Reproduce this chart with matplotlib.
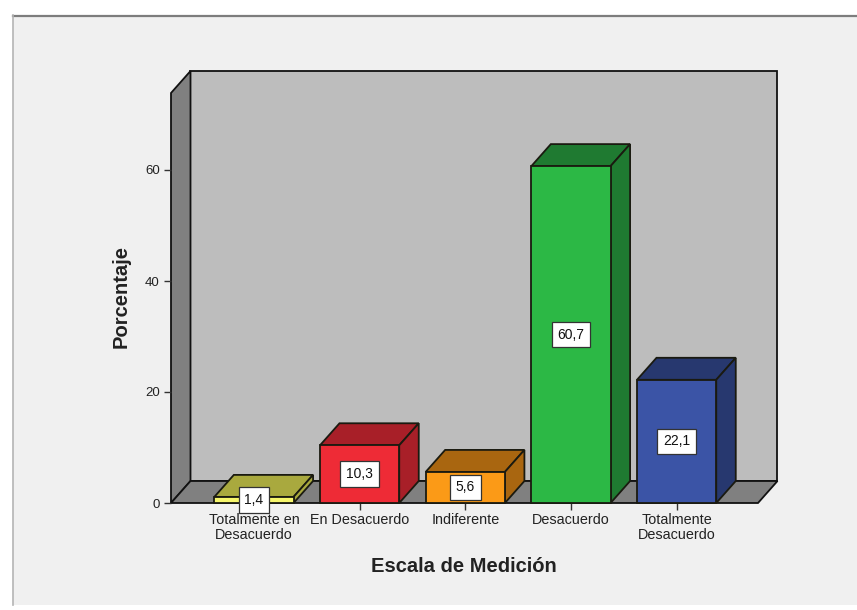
import matplotlib
matplotlib.use("Agg")
import matplotlib.pyplot as plt
from matplotlib.patches import Polygon, Rectangle

plt.rcParams['font.family'] = ['Liberation Sans', 'DejaVu Sans']

categories = ["Totalmente en\nDesacuerdo", "En Desacuerdo", "Indiferente", "Desacuerdo", "Totalmente\nDesacuerdo"]
heights = [1.1, 10.4, 5.6, 60.7, 22.2]
value_labels = ["1,4", "10,3", "5,6", "60,7", "22,1"]
face_colors = ["#f6f66c", "#ee2b36", "#fb9a17", "#2cb845", "#3b54a6"]
dark_colors = ["#a9a93e", "#a81f28", "#a96610", "#1f7a31", "#27386f"]
y_ticks = [0, 20, 40, 60]

W, H = 857, 610
fig = plt.figure(figsize=(W / 100, H / 100), dpi=100, facecolor="white")

# page panel
bg = fig.add_axes([0, 0, 1, 1])
bg.set_xlim(0, W)
bg.set_ylim(H, 0)
bg.axis("off")
bg.add_patch(Rectangle((13, 15), W - 13, 590, fc="#f0f0f0", ec="none"))
bg.plot([13, W], [15.5, 15.5], color="#7d7d7d", lw=1.6)
bg.plot([13.5, 13.5], [15, 605], color="#b4b4b4", lw=1.2)

# axes occupy the front plane of the 3D box
L, R, T, B = 171, 758, 93, 503
ax = fig.add_axes([L / W, 1 - B / H, (R - L) / W, (B - T) / H])
ax.patch.set_alpha(0)
ax.set_xlim(-0.785, 4.77)
ax.set_ylim(0, (B - T) / 5.55)
for s in ax.spines.values():
    s.set_visible(False)

dx = 19.5 / 105.7
dy = 22 / 5.55
xl, xr = ax.get_xlim()
yt = ax.get_ylim()[1]
edge = dict(ec="#111111", lw=1.3, joinstyle="miter", clip_on=False)

ax.add_patch(Polygon([(xl + dx, dy), (xr + dx, dy), (xr + dx, yt + dy), (xl + dx, yt + dy)], fc="#bdbdbd", zorder=1, **edge))
ax.add_patch(Polygon([(xl, 0), (xl + dx, dy), (xl + dx, yt + dy), (xl, yt)], fc="#808080", zorder=1, **edge))
ax.add_patch(Polygon([(xl, 0), (xr, 0), (xr + dx, dy), (xl + dx, dy)], fc="#808080", zorder=1, **edge))

w = 0.375
for i, (h, fc, dc, lab) in enumerate(zip(heights, face_colors, dark_colors, value_labels)):
    z = 3 + i
    bar_edge = dict(ec="#1a1a10", lw=1.3, joinstyle="miter", clip_on=False, zorder=z)
    ax.add_patch(Polygon([(i - w, h), (i + w, h), (i + w + dx, h + dy), (i - w + dx, h + dy)], fc=dc, **bar_edge))
    ax.add_patch(Polygon([(i + w, 0), (i + w + dx, dy), (i + w + dx, h + dy), (i + w, h)], fc=dc, **bar_edge))
    ax.add_patch(Rectangle((i - w, 0), 2 * w, h, fc=fc, **bar_edge))
    ax.text(i, h / 2, lab, ha="center", va="center", fontsize=10, color="#111111", zorder=20, clip_on=False,
            bbox=dict(boxstyle="square,pad=0.42", fc="white", ec="#333333", lw=0.9))

ax.set_xticks(range(len(categories)), categories)
ax.set_yticks(y_ticks)
ax.tick_params(axis="x", length=5, width=1, color="#333333", labelsize=10.4, pad=2, labelcolor="#222222")
ax.tick_params(axis="y", length=5, width=1, color="#333333", labelsize=9.5, pad=3, labelcolor="#222222")
for t in ax.get_xticklabels():
    t.set_linespacing(1.1)
ax.set_xlabel("Escala de Medición", fontsize=14.5, fontweight="bold", color="#222222")
ax.xaxis.set_label_coords((464 - L) / (R - L), -(566 - B) / (B - T))
ax.xaxis.label.set_va("center")
ax.set_ylabel("Porcentaje", fontsize=14.5, fontweight="bold", color="#222222")
ax.yaxis.set_label_coords((121 - L) / (R - L), (B - 297) / (B - T))
ax.yaxis.label.set_va("center")

fig.savefig("out.png", dpi=100, facecolor="white")
